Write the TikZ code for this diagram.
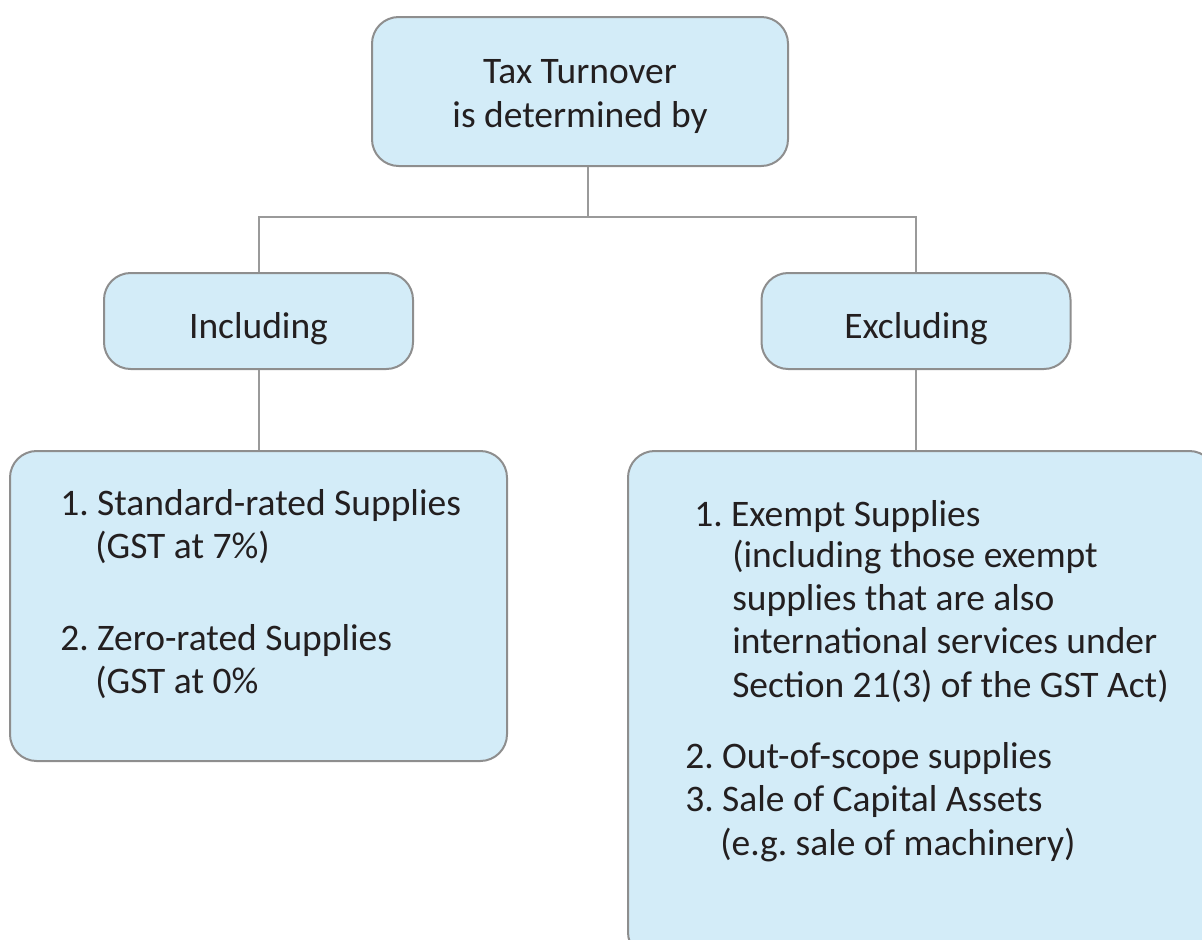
\documentclass[tikz,border=0pt]{standalone}
\usepackage{fontspec}
\setmainfont{Carlito}
\usetikzlibrary{positioning}
\frenchspacing

\definecolor{boxfill}{HTML}{D3ECF8}
\definecolor{boxline}{HTML}{8E8E8E}
\definecolor{linkgray}{HTML}{9A9A9A}
\definecolor{txtdark}{HTML}{231F20}

\begin{document}
\begin{tikzpicture}[
    x=0.75pt, y=-0.75pt,
    box/.style={rectangle, draw=boxline, line width=1.5pt, fill=boxfill,
                rounded corners=20pt, align=center, text=txtdark,
                font=\fontsize{28.1}{33}\selectfont},
    item/.style={anchor=base west, inner sep=0pt, text=txtdark,
                 font=\fontsize{28.1}{33}\selectfont},
    link/.style={draw=linkgray, line width=1.5pt}
]
\clip (0,0) rectangle (1202,939);

%% ── Top level ───────────────────────────────────────────────────────────────
\node[box, minimum width=312pt, minimum height=111.75pt] (turnover) at (580,91.5)
      {\rule{0pt}{26pt}Tax Turnover\\is determined by};

%% ── Second level ────────────────────────────────────────────────────────────
\node[box, minimum width=231.75pt, minimum height=72pt,
      text height=25.5pt, text depth=0pt] (incl) at (258.5,321) {Including};
\node[box, minimum width=231.75pt, minimum height=72pt,
      text height=25.5pt, text depth=0pt] (excl) at (916,321)   {Excluding};

\coordinate (split) at (588,217);
\draw[link] (turnover.south -| split) -- (split);
\draw[link] (incl.north) |- (split) -| (excl.north);

%% ── Lists ───────────────────────────────────────────────────────────────────
\node[box, minimum width=372.75pt, minimum height=232.5pt] (inlist) at (258.5,606) {};
\node[box, minimum width=441pt, minimum height=381pt] (exlist) at (922,705) {};

\draw[link] (incl.south) -- (inlist.north);
\draw[link] (excl.south) -- (excl.south |- exlist.north);

% Including items
\node[item] (in1)  at (60,515)  {1. Standard-rated Supplies};
\node[item] (in1b) at (95,558)  {(GST at 7\%)};
\node[item] (in2)  at (60,650)  {2. Zero-rated Supplies};
\node[item] (in2b) at (95,693)  {(GST at 0\%};

% Excluding items
\node[item] (ex1)  at (694,526) {1. Exempt Supplies};
\node[item] (ex1b) at (732,567) {(including those exempt};
\node[item] (ex1c) at (732,610) {supplies that are also};
\node[item] (ex1d) at (732,653) {international services under};
\node[item] (ex1e) at (732,697) {Section 21(3) of the GST Act)};
\node[item] (ex2)  at (685,768) {2. Out-of-scope supplies};
\node[item] (ex3)  at (685,811) {3. Sale of Capital Assets};
\node[item] (ex3b) at (720,855) {(e.g. sale of machinery)};

\end{tikzpicture}
\end{document}
